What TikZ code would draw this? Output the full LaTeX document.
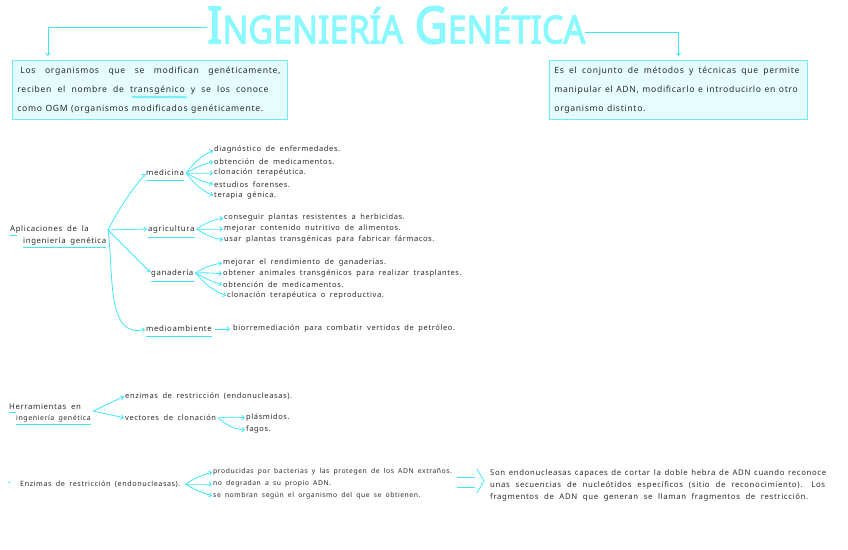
\documentclass[tikz,border=0pt]{standalone}
\usepackage{fontspec}
\usepackage{xcolor}
\setmainfont{Noto Sans}[WordSpace={1.8}, LetterSpace=8]
\newfontfamily\titlefont{Noto Sans}[FakeBold=3]
\usetikzlibrary{arrows.meta,decorations.pathmorphing,positioning}

\definecolor{cian}{HTML}{3FE6F6}
\definecolor{cianclaro}{HTML}{E6FDFF}
\definecolor{titulo}{HTML}{8AF8FF}
\definecolor{tinta}{HTML}{2A2A2A}
\newcommand\spreadline[2]{{\spaceskip=0pt\xspaceskip=0pt\makebox[#1][s]{#2}}}

\tikzset{
  raya/.style={draw=cian, line width=0.8pt},
  flecha/.style={raya, -{Straight Barb[length=2.5pt,width=4.5pt]}, shorten >=1pt},
  texto/.style={anchor=west, inner sep=0pt, text=tinta, font=\fontsize{7.5}{8}\selectfont},
  tema/.style={texto, font=\fontsize{7.8}{9}\selectfont},
  caja/.style={draw=cian!75, fill=cianclaro, line width=0.8pt, anchor=north west,
    inner xsep=5pt, inner ysep=0pt, minimum height=59pt, align=left, text=tinta,
    font=\fontsize{8.6}{19}\selectfont}
}

\begin{document}
\begin{tikzpicture}[x=1pt,y=-1pt]
\path[use as bounding box] (0,0) rectangle (848,549);

% titulo y definiciones
\node[anchor=south west, inner sep=0pt, text=titulo] (titulo) at (207,44)
  {\resizebox{378pt}{37pt}{\titlefont\fontsize{40}{40}\selectfont I{\fontsize{30}{30}\selectfont NGENIERÍA}\ G{\fontsize{30}{30}\selectfont ENÉTICA}}};
\node[caja, text width=265pt] (izq) at (12,60) {%
  \hspace*{3pt}\spreadline{260pt}{Los organismos que se modifican genéticamente,}\\
  \spreadline{251pt}{reciben el nombre de transgénico y se los conoce}\\
  \spreadline{238pt}{como OGM (organismos modificados genéticamente.}};
\node[caja, text width=248pt] (der) at (549,60) {%
  \spreadline{245pt}{Es el conjunto de métodos y técnicas que permite}\\
  \spreadline{215pt}{manipular el ADN, modificarlo e introducirlo en otro}\\
  \spreadline{75pt}{organismo distinto.}};
\draw[flecha, shorten >=4pt] ([yshift=-2.5pt]titulo.west) -| ([xshift=-102pt]izq.north);
\draw[flecha, shorten >=4pt] ([yshift=-7.5pt]titulo.east) -| (der.north);
\draw[raya, decorate, decoration={snake, amplitude=0.8pt, segment length=3pt}] (132,97) -- (187,97);

% aplicaciones
\node[tema] (apl) at (10,229) {Aplicaciones de la};
\node[tema] (apl2) at (23,241) {ingeniería genética};
\draw[raya] ([yshift=-2pt]apl2.south west) -- ([yshift=-2pt]apl2.south east);
\draw[raya] ([yshift=-2pt]apl.south west) -- ++(7,0);
\coordinate (raiz) at (108,230);

\node[tema] (med) at (146,173) {medicina};
\node[tema] (agr) at (148,229) {agricultura};
\node[tema] (gan) at (151,273) {ganadería};
\node[tema] (mam) at (146,329) {medioambiente};
\foreach \n in {med,agr,gan,mam}
  \draw[raya] ([yshift=-4pt]\n.south west) -- ([yshift=-4pt]\n.south east);

\draw[flecha] (raiz) to[bend left=6] (med.west);
\draw[flecha] (raiz) -- (agr.west);
\draw[flecha] (raiz) -- (gan.west);
\draw[flecha] (raiz) to[out=-82,in=195] (mam.west);

\foreach \t [count=\i from 0] in {diagnóstico de enfermedades., obtención de medicamentos.,
    clonación terapéutica., estudios forenses., terapia génica.}
  \node[texto] (m\i) at (214,150+11.5*\i) {\t};
\foreach \i/\b in {0/14,1/8,2/0,3/-8,4/-14}
  \draw[flecha] ([xshift=2pt]med.east) to[bend left=\b] (m\i.west);

\foreach \t [count=\i from 0] in {conseguir plantas resistentes a herbicidas.,
    mejorar contenido nutritivo de alimentos., usar plantas transgénicas para fabricar fármacos.}
  \node[texto] (a\i) at (224,218+11*\i) {\t};
\foreach \i/\b in {0/12,1/0,2/-12}
  \draw[flecha] ([xshift=2pt]agr.east) to[bend left=\b] (a\i.west);

\foreach \t [count=\i from 0] in {mejorar el rendimiento de ganaderías.,
    obtener animales transgénicos para realizar trasplantes., obtención de medicamentos.}
  \node[texto] (g\i) at (223,263+11*\i) {\t};
\node[texto] (g3) at (227,296) {clonación terapéutica o reproductiva.};
\foreach \i/\b in {0/12,1/4,2/-6,3/-14}
  \draw[flecha] ([xshift=2pt]gan.east) to[bend left=\b] (g\i.west);

\node[texto] (bio) at (233,329) {biorremediación para combatir vertidos de petróleo.};
\draw[flecha] ([xshift=3pt]mam.east) -- ([xshift=-2pt]bio.west);

% herramientas
\node[tema] (her) at (9,407) {Herramientas en};
\node[tema, font=\fontsize{7}{8}\selectfont] (her2) at (16,419) {ingeniería genética};
\draw[raya] ([yshift=-2pt]her2.south west) -- ([yshift=-2pt]her2.south east);
\draw[raya] ([yshift=-2pt]her.south west) -- ++(7,0);
\coordinate (raiz2) at (93,411);
\node[texto] (enz) at (125,396) {enzimas de restricción (endonucleasas).};
\node[texto] (vec) at (125,418) {vectores de clonación};
\draw[flecha] (raiz2) -- (enz.west);
\draw[flecha] (raiz2) -- (vec.west);
\node[texto] (pla) at (246,418) {plásmidos.};
\node[texto] (fag) at (246,430) {fagos.};
\draw[flecha] ([xshift=2pt]vec.east) to[bend left=6] (pla.west);
\draw[flecha] ([xshift=2pt]vec.east) to[bend right=18] (fag.west);

% enzimas de restriccion
\node[texto, text=cian] (punto) at (8,484) {•};
\node[texto, font=\fontsize{7.2}{8}\selectfont] (enz2) at (20,484) {Enzimas de restricción (endonucleasas).};
\foreach \t [count=\i from 0] in {producidas por bacterias y las protegen de los ADN extraños.,
    no degradan a su propio ADN., se nombran según el organismo del que se obtienen.}
  \node[texto, font=\fontsize{6.8}{8}\selectfont] (p\i) at (213,472+12*\i) {\t};
\foreach \i/\b in {0/8,1/0,2/-8}
  \draw[flecha] ([xshift=5pt]enz2.east) to[bend left=\b] (p\i.west);
\draw[raya] (457,477) -- (475,477);
\draw[raya] (457,487) -- (475,487);
\draw[raya] (477,469) -- (484,481) -- (477,493);
\node[texto, align=left, font=\fontsize{7.8}{12}\selectfont] (sig) at (490,485) {%
  \spreadline{336pt}{Son endonucleasas capaces de cortar la doble hebra de ADN cuando reconoce}\\
  \spreadline{335pt}{unas secuencias de nucleótidos específicos (sitio de reconocimiento). Los}\\
  \spreadline{318pt}{fragmentos de ADN que generan se llaman fragmentos de restricción.}};
\end{tikzpicture}
\end{document}
